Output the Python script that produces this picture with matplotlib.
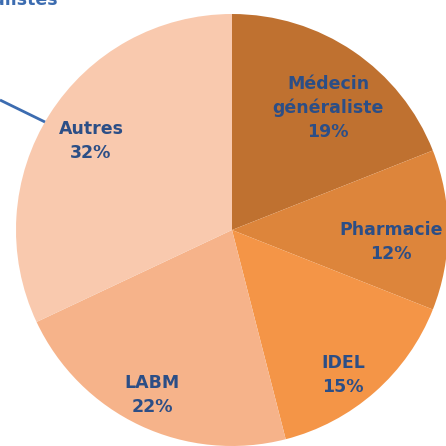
import matplotlib.pyplot as plt

# parts of the total, clockwise from 12 o'clock
labels = ["Médecin\ngénéraliste", "Pharmacie", "IDEL", "LABM", "Autres"]
shares = [19, 12, 15, 22, 32]
colors = ["#BF7130", "#DD853B", "#F49547", "#F6B38A", "#F9C9AE"]

# label anchor points in pixels (x from left, y from top)
label_px = [(328, 108), (391, 242), (343, 375), (152, 395), (91, 141)]

W = H = 446
CX, CY = 232, 230
R = 216

fig = plt.figure(figsize=(W / 100, H / 100), dpi=100)
ax = fig.add_axes([0, 0, 1, 1])

ax.pie(shares, colors=colors, startangle=90, counterclock=False,
       radius=R, center=(0, 0), frame=True,
       wedgeprops=dict(linewidth=0))
ax.set_xlim(-CX, W - CX)
ax.set_ylim(-(H - CY), CY)
ax.set_aspect("equal")
ax.axis("off")

txt_color = "#2C4E86"
for lab, pct, (px, py) in zip(labels, shares, label_px):
    ax.text(px - CX, CY - py, f"{lab}\n{pct}%", ha="center", va="center",
            fontsize=12.5, fontweight="bold", color=txt_color,
            linespacing=1.42, family="DejaVu Sans")

# leader line for "Autres" and the clipped caption above it
ax.plot([0 - CX, 45 - CX], [CY - 100, CY - 122], color="#3C6CB0", lw=2,
        solid_capstyle="butt", clip_on=False)
ax.text(58 - CX, CY - 5, "spécialistes", ha="right", va="baseline",
        fontsize=12.5, fontweight="bold", color="#3C6CB0", family="DejaVu Sans")

fig.savefig("out.png", dpi=100)
